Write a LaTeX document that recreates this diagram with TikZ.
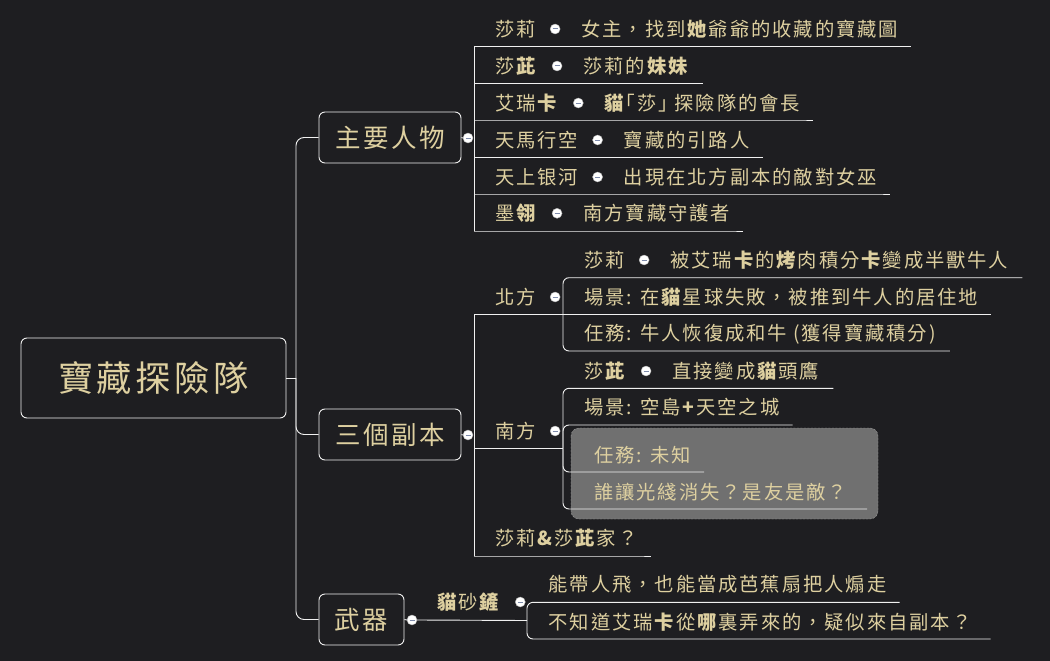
\documentclass[tikz,border=0pt]{standalone}
\usepackage{fontspec}
\usetikzlibrary{positioning}
\newfontfamily\cjk{Noto Sans CJK TC}[LetterSpace=10]
\definecolor{bgc}{HTML}{1E1E21}
\definecolor{txtc}{HTML}{DED0A0}
\definecolor{linec}{HTML}{F0F0F0}
\definecolor{boxc}{HTML}{707070}
\definecolor{boxedge}{HTML}{9C9C9C}
\definecolor{foldc}{HTML}{7D8AAA}
\tikzset{
  link/.style={draw=linec, line width=0.9pt},
  topic/.style={draw=linec, line width=0.9pt, rounded corners=6pt, text=txtc, inner sep=0pt},
  leaf/.style={text=txtc, inner sep=0pt, anchor=west, font=\cjk\fontsize{19.3}{22}\selectfont},
  fold/.style={circle, draw=gray!60, fill=white, minimum size=10pt, inner sep=0pt,
    path picture={\draw[foldc, line width=1pt] ([xshift=-2.5pt]path picture bounding box.center) -- ([xshift=2.5pt]path picture bounding box.center);}},
}
\begin{document}
\begin{tikzpicture}[x=1pt, y=-1pt]
  \fill[bgc] (0,0) rectangle (1050,661);
  \useasboundingbox (0,0) rectangle (1050,661);
  % central topic and main topics
  \node[topic, minimum width=265pt, minimum height=80pt, font=\cjk\fontsize{35.3}{40}\selectfont] (root) at (153.5,378) {寶藏探險隊};
  \node[topic, minimum width=142pt, minimum height=51pt, font=\cjk\fontsize{25.5}{30}\selectfont] (people) at (390,137.5) {主要人物};
  \node[topic, minimum width=142pt, minimum height=51pt, font=\cjk\fontsize{25.5}{30}\selectfont] (dungeon) at (390,434.5) {三個副本};
  \node[topic, minimum width=85pt, minimum height=51pt, font=\cjk\fontsize{25.5}{30}\selectfont] (weapon) at (361.5,619.5) {武器};
  \coordinate (hub) at (296,378);
  \draw[link] (root.east) -- (hub);
  \draw[link, rounded corners=8pt] (hub) |- (people.west);
  \draw[link, rounded corners=8pt] (hub) |- (dungeon.west);
  \draw[link, rounded corners=8pt] (hub) |- (weapon.west);
  \node[fold] (people-f) at (468,138) {};
  \node[fold] (dungeon-f) at (468,435) {};
  \node[fold] (weapon-f) at (412,620) {};
  \draw[link] (people.east) -- (people-f.west);
  \draw[link] (dungeon.east) -- (dungeon-f.west);
  \draw[link] (weapon.east) -- (weapon-f.west);

  % main characters
  \coordinate (pu1) at (474,46.7);
  \coordinate (pu2) at (474,83.3);
  \coordinate (pu3) at (474,120);
  \coordinate (pu4) at (474,157.3);
  \coordinate (pu5) at (474,194);
  \coordinate (pu6) at (474,231);
  \draw[link] (pu1) -- (pu6);
  \node[leaf] (p1) at (495,29) {莎莉};
  \node[fold, right=14pt of p1] (p1-f) {};
  \node[leaf, right=21pt of p1-f] (p1-d) {女主，找到\textbf{她}爺爺的收藏的寶藏圖};
  \draw[link] (pu1) -- (p1-d.east |- pu1) -- ++(13,0);
  \node[leaf] (p2) at (495,66) {莎\textbf{茈}};
  \node[fold, right=14pt of p2] (p2-f) {};
  \node[leaf, right=21pt of p2-f] (p2-d) {莎莉的\textbf{妹妹}};
  \draw[link] (pu2) -- (p2-d.east |- pu2) -- ++(13,0);
  \node[leaf] (p3) at (495,103) {艾瑞\textbf{卡}};
  \node[fold, right=14pt of p3] (p3-f) {};
  \node[leaf, right=21pt of p3-f] (p3-d) {\textbf{貓}｢莎｣ 探險隊的會長};
  \draw[link] (pu3) -- (p3-d.east |- pu3) -- ++(13,0);
  \node[leaf] (p4) at (495,140) {天馬行空};
  \node[fold, right=14pt of p4] (p4-f) {};
  \node[leaf, right=21pt of p4-f] (p4-d) {寶藏的引路人};
  \draw[link] (pu4) -- (p4-d.east |- pu4) -- ++(13,0);
  \node[leaf] (p5) at (495,177) {天上银河};
  \node[fold, right=14pt of p5] (p5-f) {};
  \node[leaf, right=21pt of p5-f] (p5-d) {出現在北方副本的敵對女巫};
  \draw[link] (pu5) -- (p5-d.east |- pu5) -- ++(13,0);
  \node[leaf] (p6) at (495,213.3) {墨\textbf{翎}};
  \node[fold, right=14pt of p6] (p6-f) {};
  \node[leaf, right=21pt of p6-f] (p6-d) {南方寶藏守護者};
  \draw[link] (pu6) -- (p6-d.east |- pu6) -- ++(13,0);

  % three dungeons
  \filldraw[fill=boxc, draw=boxedge, dash pattern=on 2pt off 1.5pt, rounded corners=8pt] (571,428) rectangle (878,519);
  \coordinate (du1) at (474,314.5);
  \coordinate (du2) at (474,448.3);
  \coordinate (du3) at (474,556);
  \draw[link] (du1) -- (du3);
  \node[leaf] (d1) at (495,297) {北方};
  \node[fold, right=14pt of d1] (d1-f) {};
  \node[leaf] (d2) at (495,431) {南方};
  \node[fold, right=14pt of d2] (d2-f) {};
  \node[leaf] (d3) at (495,538.3) {莎莉\textbf{\&}莎\textbf{茈}家？};
  \coordinate (nj) at (563,314.5);
  \coordinate (sj) at (563,448.3);
  \draw[link] (du1) -- (nj);
  \draw[link] (du2) -- (sj);
  \draw[link] (du3) -- (d3.east |- du3) -- ++(13,0);
  % north
  \node[leaf] (n1) at (584,260) {莎莉};
  \node[fold, right=14pt of n1] (n1-f) {};
  \node[leaf, right=21pt of n1-f] (n1-d) {被艾瑞\textbf{卡}的\textbf{烤}肉積分\textbf{卡}變成半獸牛人};
  \node[leaf] (n2) at (584,297) {場景: 在\textbf{貓}星球失敗，被推到牛人的居住地};
  \node[leaf] (n3) at (584,334) {任務: 牛人恢復成和牛 (獲得寶藏積分)};
  \draw[link, rounded corners=6pt] (nj) |- (n1-d.east |- 0,277.7) -- ++(14,0);
  \draw[link] (nj) -- (n2.east |- nj) -- ++(13,0);
  \draw[link, rounded corners=6pt] (nj) |- (n3.east |- 0,351) -- ++(14,0);
  % south
  \node[leaf] (s1) at (584,371) {莎\textbf{茈}};
  \node[fold, right=14pt of s1] (s1-f) {};
  \node[leaf, right=21pt of s1-f] (s1-d) {直接變成\textbf{貓}頭鷹};
  \node[leaf] (s2) at (584,407.5) {場景: 空島\textbf{+}天空之城};
  \node[leaf] (s3) at (594,455) {任務: 未知};
  \node[leaf] (s4) at (594,491.7) {誰讓光綫消失？是友是敵？};
  \draw[link, rounded corners=6pt] (sj) |- (s1-d.east |- 0,388.3) -- ++(14,0);
  \draw[link, rounded corners=6pt] (sj) |- (s2.east |- 0,425) -- ++(13,0);
  \draw[link, rounded corners=6pt] (sj) |- (s3.east |- 0,472) -- ++(13,0);
  \draw[link, rounded corners=6pt] (sj) |- (s4.east |- 0,509) -- ++(20,0);

  % weapon
  \coordinate (wj) at (527,620.5);
  \node[leaf] (w1) at (437,602) {\textbf{貓}砂\textbf{鏟}};
  \node[fold, right=14pt of w1] (w1-f) {};
  \draw[link] (weapon-f.east) -- (wj);
  \node[leaf] (w2) at (548.5,584.5) {能帶人飛，也能當成芭蕉扇把人煽走};
  \node[leaf] (w3) at (548.5,621.7) {不知道艾瑞\textbf{卡}從\textbf{哪}裏弄來的，疑似來自副本？};
  \draw[link, rounded corners=6pt] (wj) |- (w2.east |- 0,602.3) -- ++(13,0);
  \draw[link, rounded corners=6pt] (wj) |- (w3.east |- 0,639) -- ++(19,0);
\end{tikzpicture}
\end{document}
